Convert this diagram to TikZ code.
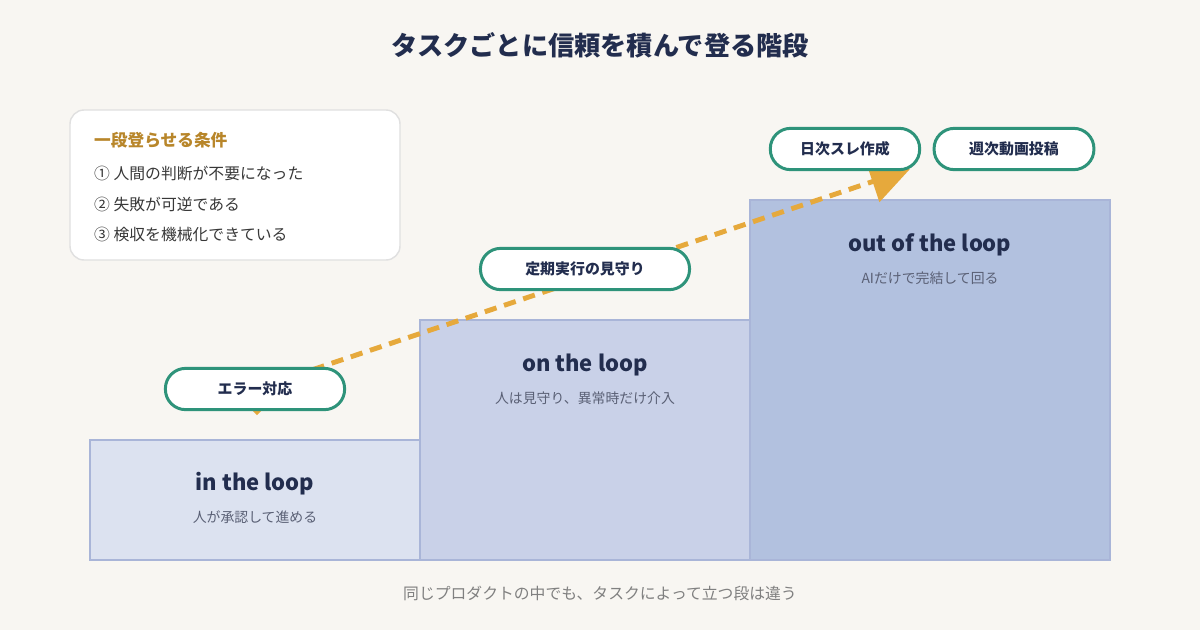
\documentclass[tikz,border=0pt]{standalone}
\usepackage{fontspec}
\setmainfont{Noto Sans CJK JP}
\usetikzlibrary{arrows.meta}
\definecolor{paper}{HTML}{F8F6F2}
\definecolor{ink}{HTML}{222D4E}
\definecolor{soft}{HTML}{5A6075}
\definecolor{gold}{HTML}{B8862A}
\definecolor{teal}{HTML}{2E937A}
\definecolor{amber}{HTML}{E6A93C}
\definecolor{stairline}{HTML}{A9B5D8}
\definecolor{stA}{HTML}{DCE2F0}
\definecolor{stB}{HTML}{C9D1E8}
\definecolor{stC}{HTML}{B2C1DF}
\pgfdeclarelayer{back}
\pgfdeclarelayer{mid}
\pgfsetlayers{back,mid,main}
\tikzset{
  pill/.style={draw=teal, line width=1.7pt, fill=white, rounded corners=11.5pt,
    minimum height=23.5pt, font=\bfseries\fontsize{8.5pt}{10pt}\selectfont, text=ink},
  steptitle/.style={font=\bfseries\fontsize{12.5pt}{14pt}\selectfont, text=ink},
  stepsub/.style={font=\fontsize{7.9pt}{9pt}\selectfont, text=soft},
  cond/.style={anchor=west, font=\fontsize{9pt}{10pt}\selectfont, text=black!78}
}
\newcommand{\stair}[5]{
\draw[fill=#5, draw=stairline, line width=.6pt] (#1,#2) rectangle (#3,#4);
}

\begin{document}
\begin{tikzpicture}[x=0.02cm, y=-0.02cm]
\useasboundingbox (0,0) rectangle (1200,630);
\begin{pgfonlayer}{back}
\fill[paper] (0,0) rectangle (1200,630);
\stair{90}{440}{420}{560}{stA}
\stair{420}{320}{750}{560}{stB}
\stair{750}{200}{1110}{560}{stC}
\end{pgfonlayer}

\node[font=\bfseries\fontsize{14.9pt}{17pt}\selectfont, text=ink] (title) at (600,45) {タスクごとに信頼を積んで登る階段};

% conditions
\draw[fill=white, draw=black!12, line width=.8pt, rounded corners=8pt] (70,110) rectangle (400,260);
\node[anchor=west, font=\bfseries\fontsize{9.5pt}{11pt}\selectfont, text=gold] (condhead) at (88,140) {一段登らせる条件};
\node[cond] (cond1) at (88,174) {① 人間の判断が不要になった};
\node[cond] (cond2) at (88,204) {② 失敗が可逆である};
\node[cond] (cond3) at (88,234) {③ 検収を機械化できている};

% steps
\node[steptitle] (intitle) at (255,484) {in the loop};
\node[stepsub] (insub) at (255,517) {人が承認して進める};
\node[steptitle] (ontitle) at (585,365) {on the loop};
\node[stepsub] (onsub) at (585,398) {人は見守り、異常時だけ介入};
\node[steptitle] (outtitle) at (930,245) {out of the loop};
\node[stepsub] (outsub) at (930,278) {AIだけで完結して回る};

% tasks
\node[pill, minimum width=102pt] (err) at (255,389) {エラー対応};
\node[pill, minimum width=119pt] (watch) at (585,269) {定期実行の見守り};
\node[pill, minimum width=85pt] (daily) at (845,149) {日次スレ作成};
\node[pill, minimum width=91pt] (weekly) at (1014,149) {週次動画投稿};

\coordinate (tip) at (910,169);
\begin{pgfonlayer}{mid}
\draw[amber, line width=2.8pt, dash pattern=on 7pt off 4.5pt,
  -{Triangle[length=22.5pt, width=24pt]}] (err.center) -- (tip);
\fill[amber] (251,409) -- (263,409) -- (257,415) -- cycle;
\end{pgfonlayer}

\node[font=\fontsize{9pt}{10pt}\selectfont, text=black!50] (note) at (600,593) {同じプロダクトの中でも、タスクによって立つ段は違う};
\end{tikzpicture}
\end{document}
